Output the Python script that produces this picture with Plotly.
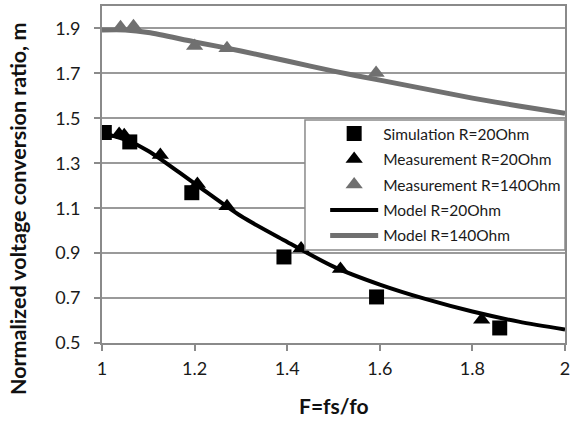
import plotly.graph_objects as go

# Normalized frequency F = fs/fo for the model curves
model_f = [1.0, 1.05, 1.1, 1.2, 1.3, 1.4, 1.5, 1.6, 1.7, 1.8, 1.9, 2.0]
model_r20 = [1.435, 1.405, 1.355, 1.21, 1.065, 0.95, 0.84, 0.76, 0.695, 0.64, 0.595, 0.56]
model_r140 = [1.893, 1.893, 1.882, 1.84, 1.80, 1.755, 1.71, 1.67, 1.63, 1.59, 1.555, 1.522]

# Simulation, R = 20 Ohm
sim_f = [1.005, 1.06, 1.194, 1.393, 1.593, 1.859]
sim_m = [1.437, 1.395, 1.169, 0.883, 0.705, 0.567]

# Measurement, R = 20 Ohm
meas20_f = [1.037, 1.048, 1.126, 1.206, 1.27, 1.43, 1.515, 1.82]
meas20_m = [1.43, 1.425, 1.337, 1.208, 1.109, 0.921, 0.829, 0.604]

# Measurement, R = 140 Ohm
meas140_f = [1.04, 1.068, 1.2, 1.27, 1.592]
meas140_m = [1.905, 1.91, 1.822, 1.812, 1.702]

y_ticks = [0.5, 0.7, 0.9, 1.1, 1.3, 1.5, 1.7, 1.9]
x_ticks = [1, 1.2, 1.4, 1.6, 1.8, 2]

FONT = "Lato"
DARK = "#000000"
GRAY_LINE = "#707070"
AXIS_GRAY = "#8a8a8a"
TEXT = "#1a1a1a"

fig = go.Figure()

fig.add_trace(go.Scatter(
    x=model_f, y=model_r20, mode="lines", name="Model R=20Ohm",
    line=dict(color=DARK, width=4, shape="spline", smoothing=0.8),
    legendrank=4, legendgroup="d"))
fig.add_trace(go.Scatter(
    x=model_f, y=model_r140, mode="lines", name="Model R=140Ohm",
    line=dict(color=GRAY_LINE, width=5, shape="spline", smoothing=0.8),
    legendrank=5, legendgroup="e"))
fig.add_trace(go.Scatter(
    x=sim_f, y=sim_m, mode="markers", name="Simulation R=20Ohm",
    marker=dict(symbol="square", size=15, color=DARK),
    legendrank=1, legendgroup="a"))
fig.add_trace(go.Scatter(
    x=meas20_f, y=meas20_m, mode="markers", name="Measurement R=20Ohm",
    marker=dict(symbol="triangle-up", size=15, color=DARK),
    legendrank=2, legendgroup="b"))
fig.add_trace(go.Scatter(
    x=meas140_f, y=meas140_m, mode="markers", name="Measurement R=140Ohm",
    marker=dict(symbol="triangle-up", size=15, color=GRAY_LINE),
    legendrank=3, legendgroup="c"))

fig.update_layout(
    width=581, height=423,
    margin=dict(l=102, r=16, t=6, b=80, autoexpand=False),
    paper_bgcolor="white", plot_bgcolor="white",
    font=dict(family=FONT, size=18, color=TEXT),
    showlegend=True,
    legend=dict(
        x=0.482, xanchor="left", y=0.6706, yanchor="top",
        bgcolor="rgba(0,0,0,0)", borderwidth=0,
        font=dict(family=FONT, size=15.5, color=TEXT),
        tracegroupgap=2.3, traceorder="grouped",
        itemwidth=48,
    ),
    # white legend panel covering the gridlines behind the legend
    shapes=[dict(
        type="rect", xref="paper", yref="paper",
        x0=0.4384, x1=1.0, y0=0.276, y1=0.662,
        fillcolor="white", line=dict(color=AXIS_GRAY, width=1.5),
        layer="above")],
    xaxis=dict(
        range=[1, 2], tickvals=x_ticks, ticktext=["1", "1.2", "1.4", "1.6", "1.8", "2"],
        showgrid=False, zeroline=False,
        showline=True, linecolor=AXIS_GRAY, linewidth=2, mirror=True,
        ticks="outside", ticklen=6, tickcolor=AXIS_GRAY, tickwidth=2,
        ticklabelstandoff=2,
        tickfont=dict(family=FONT, size=18, color=TEXT),
    ),
    yaxis=dict(
        range=[0.5, 2.0], tickvals=y_ticks,
        ticktext=[f"{v:.1f}" for v in y_ticks],
        showgrid=True, gridcolor="#9a9a9a", gridwidth=2, zeroline=False,
        showline=True, linecolor=AXIS_GRAY, linewidth=2, mirror=True,
        ticks="outside", ticklen=6, tickcolor=AXIS_GRAY, tickwidth=2,
        ticklabelstandoff=10,
        tickfont=dict(family=FONT, size=18, color=TEXT),
    ),
    annotations=[
        dict(text="<b>Normalized voltage conversion ratio, m</b>",
             xref="paper", yref="paper", x=-0.181, y=0.398,
             xanchor="center", yanchor="middle", textangle=-90,
             showarrow=False, font=dict(family=FONT, size=21.5, color="#111111")),
        dict(text="<b>F=fs/fo</b>",
             xref="paper", yref="paper", x=0.5, y=-0.184,
             xanchor="center", yanchor="middle",
             showarrow=False, font=dict(family=FONT, size=21, color="#111111")),
    ],
)

fig.write_html("out.html")
